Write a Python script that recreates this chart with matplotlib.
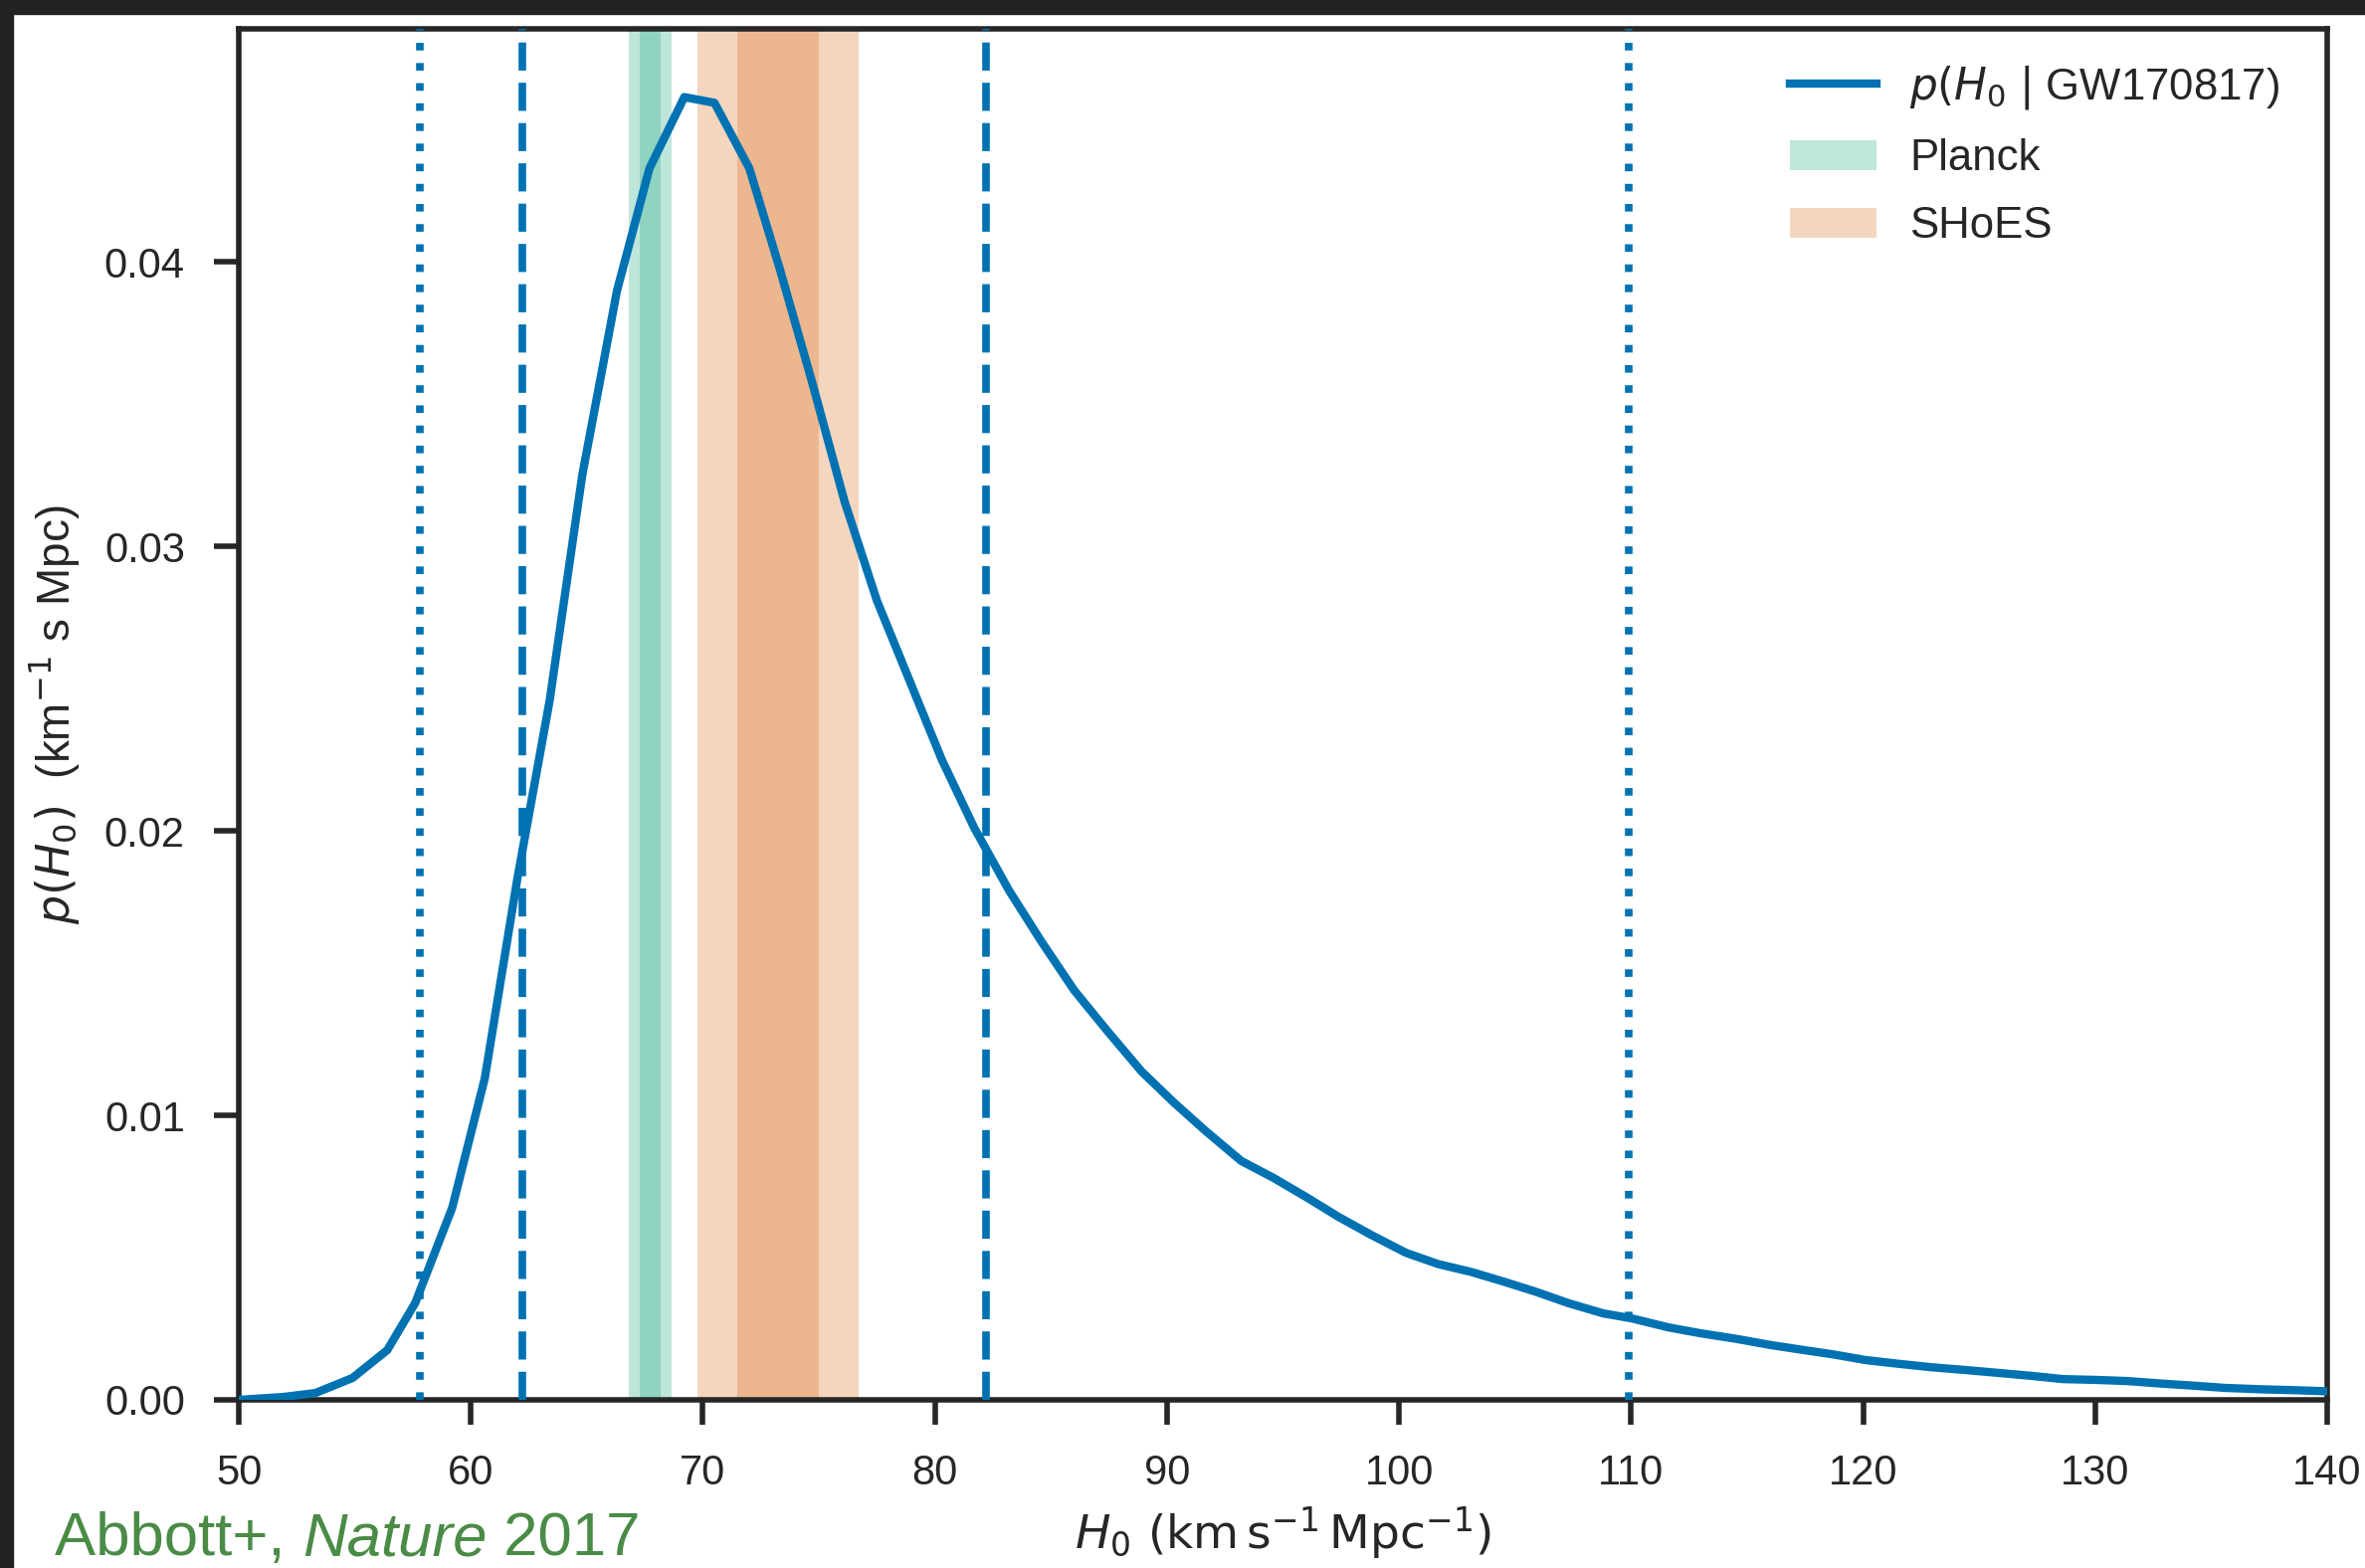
import matplotlib
matplotlib.use('Agg')
import matplotlib.pyplot as plt
from matplotlib.patches import Rectangle

plt.rcParams['font.family'] = ['Liberation Sans', 'DejaVu Sans']
plt.rcParams['mathtext.fontset'] = 'dejavusans'

# posterior p(H0 | GW170817)
h0 = [50.0, 51.9, 53.3, 54.9, 56.4, 57.6, 59.2, 60.6, 62.0, 63.4, 64.8, 66.3,
      67.7, 69.2, 70.5, 72.0, 73.3, 74.7, 76.1, 77.5, 78.9, 80.3, 81.7, 83.2,
      84.6, 86.0, 87.4, 88.9, 90.3, 91.7, 93.2, 94.6, 96.0, 97.4, 98.8, 100.3,
      101.7, 103.1, 104.5, 105.9, 107.3, 108.8, 110.0, 111.6, 113.0, 114.5,
      116.0, 117.2, 118.7, 120.1, 121.5, 122.9, 124.4, 125.8, 127.3, 128.6,
      130.1, 131.4, 132.9, 134.4, 135.6, 137.2, 138.6, 140.0]
p_h0 = [0.0, 0.0001, 0.00024, 0.00077, 0.00175, 0.0034, 0.00676, 0.0113,
        0.0183, 0.0246, 0.0325, 0.0390, 0.0433, 0.0458, 0.0456, 0.0433,
        0.0398, 0.0358, 0.0316, 0.0281, 0.0253, 0.0225, 0.0201, 0.0179,
        0.0161, 0.0144, 0.0130, 0.01155, 0.01045, 0.00943, 0.0084, 0.0078,
        0.00713, 0.00643, 0.0058, 0.00517, 0.00477, 0.0045, 0.00416, 0.0038,
        0.0034, 0.00304, 0.00287, 0.00255, 0.00234, 0.00215, 0.00193, 0.00178,
        0.0016, 0.0014, 0.00127, 0.00115, 0.00105, 0.00095, 0.00084, 0.00073,
        0.0007, 0.00066, 0.00057, 0.00049, 0.00042, 0.00037, 0.00034, 0.0003]

# credible intervals (68% dashed, 95% dotted)
ci68 = [62.2, 82.2]
ci95 = [57.8, 109.9]

planck = (67.74, 0.46)
shoes = (73.24, 1.74)

blue = '#0072B2'
green = '#009E73'
orange = '#D55E00'
dark = '#262626'
credit = '#4a8b46'

fig = plt.figure(figsize=(23.77, 15.76), dpi=100)
# dark slide frame on the top and left edges
fig.patches.append(Rectangle((0, 0), 13 / 2377, 1, transform=fig.transFigure,
                             color='#222222', zorder=-1))
fig.patches.append(Rectangle((0, 1 - 14 / 1576), 1, 14 / 1576, transform=fig.transFigure,
                             color='#222222', zorder=-1))

ax = fig.add_axes([240 / 2377, 1 - 1407 / 1576, 2099 / 2377, 1378 / 1576])

line, = ax.plot(h0, p_h0, color=blue, lw=6, zorder=3)
pl = ax.axvspan(planck[0] - 2 * planck[1], planck[0] + 2 * planck[1], color=green, alpha=0.25, lw=0)
ax.axvspan(planck[0] - planck[1], planck[0] + planck[1], color=green, alpha=0.25, lw=0)
sh = ax.axvspan(shoes[0] - 2 * shoes[1], shoes[0] + 2 * shoes[1], color=orange, alpha=0.25, lw=0)
ax.axvspan(shoes[0] - shoes[1], shoes[0] + shoes[1], color=orange, alpha=0.25, lw=0)

for v in ci68:
    ax.axvline(v, color=blue, lw=5.5, ls='--', zorder=4)
for v in ci95:
    ax.axvline(v, color=blue, lw=5.5, ls=':', zorder=4)

ax.set_xlim(50, 140)
ax.set_ylim(0, 0.0482)
ax.set_xticks(range(50, 141, 10))
ax.set_yticks([0.0, 0.01, 0.02, 0.03, 0.04])
ax.set_yticklabels(['0.00', '0.01', '0.02', '0.03', '0.04'])

for s in ax.spines.values():
    s.set_linewidth(4)
    s.set_color(dark)
ax.tick_params(direction='out', length=18, width=4, color=dark, labelcolor=dark,
               labelsize=30, pad=21)

ax.set_xlabel(r'$H_0\ (\mathrm{km\,s^{-1}\,Mpc^{-1}})$', fontsize=34, color=dark, labelpad=8)
ax.set_ylabel(r'$p(H_0)$  (km$^{-1}$ s Mpc)', fontsize=33, color=dark, labelpad=16)

leg = ax.legend([line, pl, sh], [r'$p(H_0\;|\;$GW170817)', 'Planck', 'SHoES'],
                loc='upper right', bbox_to_anchor=(0.996, 1.003), frameon=False,
                fontsize=31.5, handlelength=2.0, handletextpad=0.75, labelspacing=0.62)
for t in leg.get_texts():
    t.set_color(dark)

# credit line, pieces placed one after the other
r = fig.canvas.get_renderer()
x0 = 55
y0 = 1 - 1563 / 1576
for txt, st in [('Abbott+, ', 'normal'), ('Nature', 'italic'), (' 2017', 'normal')]:
    t = fig.text(x0 / 2377, y0, txt, fontsize=44.5, color=credit, family='Liberation Sans',
                 style=st, ha='left', va='baseline')
    x0 += t.get_window_extent(r).width

fig.savefig('out.png', dpi=100, facecolor='white')
